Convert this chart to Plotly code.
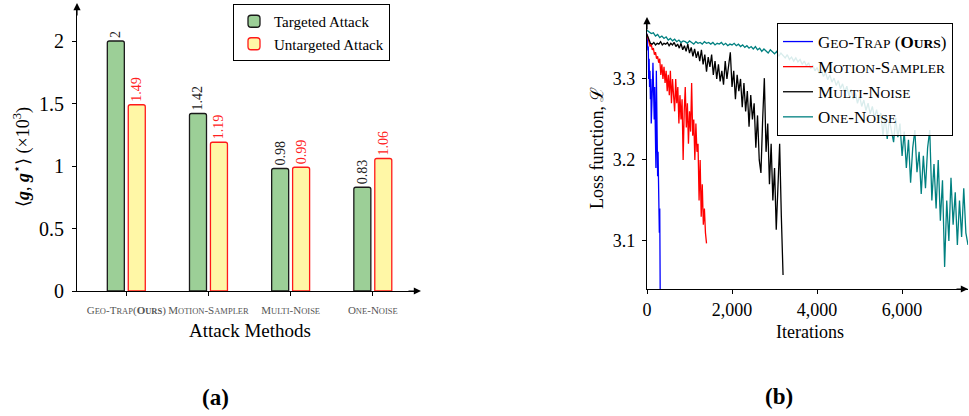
import plotly.graph_objects as go

# ---------------- data: panel (a) ----------------
SC = "font-size:8.5px"
methods_html = [
    f"G<span style='{SC}'>EO</span>-T<span style='{SC}'>RAP</span>(<b>O<span style='{SC}'>URS</span></b>)",
    f"M<span style='{SC}'>OTION</span>-S<span style='{SC}'>AMPLER</span>",
    f"M<span style='{SC}'>ULTI</span>-N<span style='{SC}'>OISE</span>",
    f"O<span style='{SC}'>NE</span>-N<span style='{SC}'>OISE</span>",
]
targeted = [2, 1.42, 0.98, 0.83]
untargeted = [1.49, 1.19, 0.99, 1.06]
left_yticks = [0, 0.5, 1, 1.5, 2]
left_yticktext = ["0", "0.5", "1", "1.5", "2"]

# ---------------- data: panel (b) ----------------
geo_step = 10
geo_trap = [3.356, 3.348, 3.335, 3.340, 3.300, 3.325, 3.290, 3.310, 3.275, 3.300,
            3.245, 3.285, 3.260, 3.295, 3.320, 3.280, 3.300, 3.250, 3.290, 3.220,
            3.270, 3.190, 3.310, 3.240, 3.280, 3.180, 3.210, 3.130, 3.170, 3.110,
            3.140, 3.040]

motion_step = 25
motion_sampler = [3.355, 3.350, 3.345, 3.340, 3.343, 3.336, 3.338, 3.330, 3.333, 3.325,
                  3.328, 3.320, 3.325, 3.305, 3.318, 3.300, 3.315, 3.295, 3.310, 3.285,
                  3.305, 3.280, 3.310, 3.270, 3.300, 3.285, 3.260, 3.300, 3.270, 3.290,
                  3.245, 3.280, 3.250, 3.275, 3.200, 3.260, 3.290, 3.240, 3.270, 3.220,
                  3.260, 3.235, 3.295, 3.230, 3.250, 3.200, 3.245, 3.210, 3.220, 3.150,
                  3.200, 3.130, 3.170, 3.120, 3.140, 3.110, 3.097]

multi_step = 40
multi_noise = [3.355, 3.350, 3.344, 3.343, 3.345, 3.342, 3.344, 3.343, 3.346, 3.342,
               3.344, 3.343, 3.345, 3.341, 3.344, 3.342, 3.345, 3.340, 3.343, 3.338,
               3.344, 3.336, 3.341, 3.334, 3.343, 3.332, 3.339, 3.328, 3.337, 3.326,
               3.334, 3.322, 3.336, 3.318, 3.330, 3.309, 3.327, 3.315, 3.330, 3.305,
               3.322, 3.300, 3.318, 3.297, 3.310, 3.293, 3.322, 3.300, 3.316, 3.333,
               3.290, 3.310, 3.275, 3.305, 3.285, 3.300, 3.265, 3.295, 3.260, 3.285,
               3.241, 3.280, 3.250, 3.270, 3.215, 3.255, 3.200, 3.184, 3.250, 3.301,
               3.210, 3.245, 3.170, 3.220, 3.150, 3.190, 3.114, 3.170, 3.220, 3.130,
               3.058]

one_step = 50
one_noise = [3.360, 3.358, 3.356, 3.357, 3.353, 3.355, 3.351, 3.353, 3.350, 3.352,
             3.348, 3.350, 3.347, 3.349, 3.346, 3.348, 3.345, 3.347, 3.346, 3.344,
             3.347, 3.345, 3.343, 3.346, 3.344, 3.345, 3.343, 3.346, 3.344, 3.345,
             3.343, 3.345, 3.342, 3.344, 3.343, 3.345, 3.342, 3.344, 3.341, 3.343,
             3.342, 3.344, 3.341, 3.343, 3.340, 3.342, 3.339, 3.341, 3.338, 3.340,
             3.337, 3.340, 3.336, 3.338, 3.334, 3.337, 3.335, 3.332, 3.336, 3.333,
             3.331, 3.334, 3.328, 3.332, 3.329, 3.326, 3.330, 3.324, 3.327, 3.322,
             3.326, 3.321, 3.324, 3.318, 3.322, 3.316, 3.320, 3.313, 3.317, 3.310,
             3.314, 3.307, 3.311, 3.303, 3.308, 3.299, 3.305, 3.296, 3.301, 3.292,
             3.298, 3.288, 3.294, 3.284, 3.291, 3.279, 3.287, 3.275, 3.283, 3.270,
             3.279, 3.266, 3.274, 3.261, 3.270, 3.257, 3.266, 3.252, 3.262, 3.248,
             3.258, 3.230, 3.255, 3.226, 3.250, 3.238, 3.222, 3.252, 3.228, 3.245,
             3.205, 3.235, 3.190, 3.225, 3.172, 3.215, 3.237, 3.185, 3.210, 3.158,
             3.205, 3.165, 3.215, 3.237, 3.150, 3.195, 3.140, 3.200, 3.125, 3.175,
             3.068, 3.150, 3.100, 3.178, 3.120, 3.160, 3.095, 3.150, 3.105, 3.165,
             3.110, 3.095]

right_xticks = [0, 2000, 4000, 6000]
right_xticktext = ["0", "2,000", "4,000", "6,000"]
right_yticks = [3.1, 3.2, 3.3]

W, H = 969, 416
SERIF = "Liberation Serif"


def px(x):
    return x / W


def py(y):
    return 1 - y / H


fig = go.Figure()

# ---- panel (a) bars ----
xs = list(range(len(targeted)))
fig.add_trace(go.Bar(
    x=xs, y=targeted, width=0.207, offset=-0.231,
    marker=dict(color="#9ccf97", line=dict(color="#1a1a1a", width=1.3), cornerradius=2),
    text=[str(v) for v in targeted], textposition="outside", textangle=-90,
    constraintext="none", cliponaxis=False,
    outsidetextfont=dict(family=SERIF, size=14, color="#222222"),
    name="Targeted Attack", xaxis="x", yaxis="y", legend="legend",
))
fig.add_trace(go.Bar(
    x=xs, y=untargeted, width=0.207, offset=0.024,
    marker=dict(color="#fff7a6", line=dict(color="#ff1a1a", width=1.3), cornerradius=2),
    text=[str(v) for v in untargeted], textposition="outside", textangle=-90,
    constraintext="none", cliponaxis=False,
    outsidetextfont=dict(family=SERIF, size=14, color="#ff2020"),
    name="Untargeted Attack", xaxis="x", yaxis="y", legend="legend",
))

# ---- panel (b) lines ----
S2 = "font-size:13.5px"
series = [
    (f"G<span style='{S2}'>EO</span>-T<span style='{S2}'>RAP</span> (<b>O<span style='{S2}'>URS</span></b>)", geo_trap, geo_step, "#0000ff"),
    (f"M<span style='{S2}'>OTION</span>-S<span style='{S2}'>AMPLER</span>", motion_sampler, motion_step, "#ff0000"),
    (f"M<span style='{S2}'>ULTI</span>-N<span style='{S2}'>OISE</span>", multi_noise, multi_step, "#000000"),
    (f"O<span style='{S2}'>NE</span>-N<span style='{S2}'>OISE</span>", one_noise, one_step, "#008080"),
]
for name, vals, step, color in series:
    fig.add_trace(go.Scatter(
        x=[i * step for i in range(len(vals))], y=vals, mode="lines",
        line=dict(color=color, width=1.3), name=name,
        xaxis="x2", yaxis="y2", legend="legend2",
    ))

axis_common = dict(showgrid=False, zeroline=False, showline=True, linecolor="black",
                   linewidth=1.2, ticks="outside", ticklen=4, tickcolor="black",
                   tickwidth=1.2)

fig.update_layout(
    width=W, height=H,
    margin=dict(l=0, r=0, t=0, b=0, autoexpand=False),
    paper_bgcolor="white", plot_bgcolor="white",
    barmode="overlay",
    font=dict(family=SERIF, color="black"),
    xaxis=dict(domain=[px(77), px(418)], range=[-0.6, 3.55], tickvals=xs,
               ticktext=methods_html, tickfont=dict(size=11, color="#555555"),
               ticklabelstandoff=5, anchor="y", **axis_common),
    yaxis=dict(domain=[py(291), py(5)], range=[0, 2.288], tickvals=left_yticks,
               ticktext=left_yticktext, tickfont=dict(size=20), anchor="x",
               ticklabelstandoff=4, **axis_common),
    xaxis2=dict(domain=[px(647), px(968)], range=[0, 7550], tickvals=right_xticks,
                ticktext=right_xticktext, tickfont=dict(size=18), anchor="y2",
                **axis_common),
    yaxis2=dict(domain=[py(289), py(19)], range=[3.0407, 3.374], tickvals=right_yticks,
                tickformat=".1f", tickfont=dict(size=18), anchor="x2",
                ticklabelstandoff=3, **axis_common),
    legend=dict(x=px(233), y=py(4), xanchor="left", yanchor="top",
                bordercolor="black", borderwidth=1, bgcolor="white",
                font=dict(family=SERIF, size=15), tracegroupgap=0, itemwidth=30),
    legend2=dict(x=px(777), y=py(23), xanchor="left", yanchor="top",
                 bordercolor="black", borderwidth=1, bgcolor="rgba(255,255,255,0.85)",
                 font=dict(family=SERIF, size=17), tracegroupgap=0, itemwidth=30),
    showlegend=True,
)

annots = [
    dict(x=px(22), y=py(157), text="⟨<b><i>g</i></b>, <b><i>g</i></b><sup>⋆</sup>⟩ (×10<sup>3</sup>)",
         textangle=-90, font=dict(size=18)),
    dict(x=px(250), y=py(330), text="Attack Methods", font=dict(size=19)),
    dict(x=px(810), y=py(332), text="Iterations", font=dict(size=18)),
    dict(x=px(597), y=py(148), text="Loss function, ℒ", textangle=-90, font=dict(size=18)),
    dict(x=px(215), y=py(397), text="<b>(a)</b>", font=dict(size=23)),
    dict(x=px(779), y=py(396), text="<b>(b)</b>", font=dict(size=23)),
]
for a in annots:
    fig.add_annotation(xref="paper", yref="paper", showarrow=False,
                       xanchor="center", yanchor="middle", **a)

# axis arrowheads
for (tx, ty, ax, ay) in [(77, 3, 0, 14), (421, 291, -14, 0), (647, 17, 0, 14), (969, 289, -14, 0)]:
    fig.add_annotation(xref="paper", yref="paper", x=px(tx), y=py(ty), ax=ax, ay=ay,
                       text="", showarrow=True, arrowhead=2, arrowsize=1.2,
                       arrowwidth=1.2, arrowcolor="black")

fig.write_html("out.html", config={"displayModeBar": False},
               post_script="document.body.style.margin='0px';")
